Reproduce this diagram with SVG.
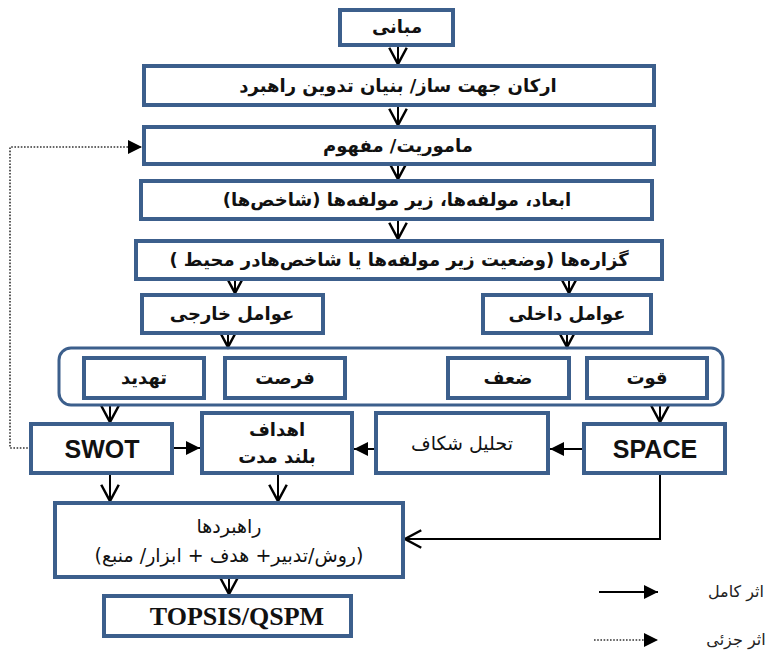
<svg xmlns="http://www.w3.org/2000/svg" width="772" height="651" viewBox="0 0 772 651">
<style>
.box{fill:#fff;stroke:#3c5f8c;stroke-width:4}
.cont{fill:none;stroke:#3c5f8c;stroke-width:3}
.fa{font-family:"DejaVu Sans",sans-serif;font-size:18px;font-weight:bold;fill:#111;text-anchor:middle;direction:rtl}
.fan{font-family:"DejaVu Sans",sans-serif;font-size:19px;fill:#111;text-anchor:middle;direction:rtl}
.lat{font-family:"Liberation Sans",Arial,sans-serif;font-size:25px;font-weight:bold;fill:#111;text-anchor:middle}
.ser{font-family:"Liberation Serif","Times New Roman",serif;font-size:26px;font-weight:bold;fill:#111;text-anchor:middle}
.leg{font-family:"DejaVu Sans",sans-serif;font-size:16px;fill:#222;text-anchor:middle;direction:rtl}
.c{fill:none;stroke:#000;stroke-width:2}
.d{fill:none;stroke:#333;stroke-width:1.6;stroke-dasharray:1.6 1.6}
</style>
<defs>
<marker id="open" markerUnits="userSpaceOnUse" markerWidth="20" markerHeight="20" refX="14" refY="8" orient="auto" viewBox="0 0 16 16" overflow="visible">
<path d="M1,1 L14,8 L1,15" fill="none" stroke="#000" stroke-width="2"/>
</marker>
<marker id="fill" markerUnits="userSpaceOnUse" markerWidth="14" markerHeight="14" refX="12" refY="6" orient="auto" viewBox="0 0 12 12" overflow="visible">
<path d="M0,0 L12,6 L0,12 Z" fill="#000"/>
</marker>
</defs>

<g id="connectors">
<line class="c" x1="398" y1="45" x2="398" y2="64" marker-end="url(#open)"/>
<line class="c" x1="398" y1="105" x2="398" y2="125" marker-end="url(#open)"/>
<line class="c" x1="398" y1="164" x2="398" y2="179" marker-end="url(#open)"/>
<line class="c" x1="398" y1="219" x2="398" y2="239" marker-end="url(#open)"/>
<line class="c" x1="235" y1="279" x2="235" y2="293" marker-end="url(#open)"/>
<line class="c" x1="569" y1="279" x2="569" y2="293" marker-end="url(#open)"/>
<line class="c" x1="228" y1="333" x2="228" y2="347" marker-end="url(#open)"/>
<line class="c" x1="567" y1="333" x2="567" y2="347" marker-end="url(#open)"/>
<line class="c" x1="110" y1="405" x2="110" y2="422" marker-end="url(#open)"/>
<line class="c" x1="660" y1="405" x2="660" y2="422" marker-end="url(#open)"/>
<line class="c" x1="172" y1="448" x2="200" y2="448" marker-end="url(#fill)"/>
<line class="c" x1="376" y1="449" x2="354" y2="449" marker-end="url(#fill)"/>
<line class="c" x1="584" y1="449" x2="550" y2="449" marker-end="url(#fill)"/>
<line class="c" x1="110" y1="473" x2="110" y2="501" marker-end="url(#open)"/>
<line class="c" x1="278" y1="473" x2="278" y2="501" marker-end="url(#open)"/>
<path class="c" d="M660,473 V539 H405" marker-end="url(#open)"/>
<line class="c" x1="229" y1="577" x2="229" y2="594" marker-end="url(#open)"/>
<path class="d" d="M31,448 H10 V147 H142" marker-end="url(#fill)"/>
</g>

<g id="container"><rect class="cont" x="59" y="348" width="664" height="57" rx="12"/></g>

<g id="mabani"><rect class="box" x="340" y="10" width="113" height="35"/><text class="fa" x="397" y="33">مبانی</text></g>
<g id="arkan"><rect class="box" x="144" y="66" width="510" height="39"/><text class="fa" x="398" y="92">ارکان جهت ساز/ بنیان تدوین راهبرد</text></g>
<g id="mamoriat"><rect class="box" x="144" y="127" width="510" height="37"/><text class="fa" x="398" y="152">ماموریت/ مفهوم</text></g>
<g id="abaad"><rect class="box" x="141" y="181" width="511" height="38"/><text class="fa" x="397" y="206">ابعاد، مولفه‌ها، زیر مولفه‌ها (شاخص‌ها)</text></g>
<g id="gozareha"><rect class="box" x="136" y="241" width="526" height="38"/><text class="fa" x="399" y="266">گزاره‌ها (وضعیت زیر مولفه‌ها  یا شاخص‌هادر محیط )</text></g>
<g id="kharegi"><rect class="box" x="142" y="295" width="181" height="38"/><text class="fa" x="232" y="320">عوامل خارجی</text></g>
<g id="dakheli"><rect class="box" x="483" y="295" width="168" height="38"/><text class="fa" x="567" y="320">عوامل داخلی</text></g>
<g id="tahdid"><rect class="box" x="84" y="358" width="120" height="40"/><text class="fa" x="144" y="384">تهدید</text></g>
<g id="forsat"><rect class="box" x="225" y="358" width="120" height="40"/><text class="fa" x="285" y="384">فرصت</text></g>
<g id="zaf"><rect class="box" x="448" y="358" width="121" height="40"/><text class="fa" x="508" y="384">ضعف</text></g>
<g id="ghovvat"><rect class="box" x="587" y="358" width="120" height="40"/><text class="fa" x="647" y="384">قوت</text></g>
<g id="swot"><rect class="box" x="31" y="424" width="141" height="49"/><text class="lat" x="102" y="458">SWOT</text></g>
<g id="ahdaf"><rect class="box" x="202" y="413" width="150" height="60"/><text class="fa" x="277" y="436">اهداف</text><text class="fa" x="277" y="463">بلند مدت</text></g>
<g id="shekaf"><rect class="box" x="376" y="413" width="172" height="60"/><text class="fan" x="462" y="450">تحلیل شکاف</text></g>
<g id="space"><rect class="box" x="584" y="424" width="141" height="49"/><text class="lat" x="655" y="458">SPACE</text></g>
<g id="rahbordha"><rect class="box" x="55" y="503" width="348" height="74"/><text class="fan" x="229" y="533">راهبردها</text><text class="fan" x="229" y="562">(روش/تدبیر+ هدف + ابزار/ منبع)</text></g>
<g id="topsis"><rect class="box" x="104" y="596" width="247" height="40"/><text class="ser" x="237" y="625">TOPSIS/QSPM</text></g>

<g id="legend">
<line class="c" x1="599" y1="592" x2="658" y2="592" marker-end="url(#fill)"/>
<text class="leg" x="736" y="597">اثر کامل</text>
<line class="d" x1="594" y1="640" x2="658" y2="640" marker-end="url(#fill)"/>
<text class="leg" x="736" y="645">اثر جزئی</text>
</g>
</svg>
